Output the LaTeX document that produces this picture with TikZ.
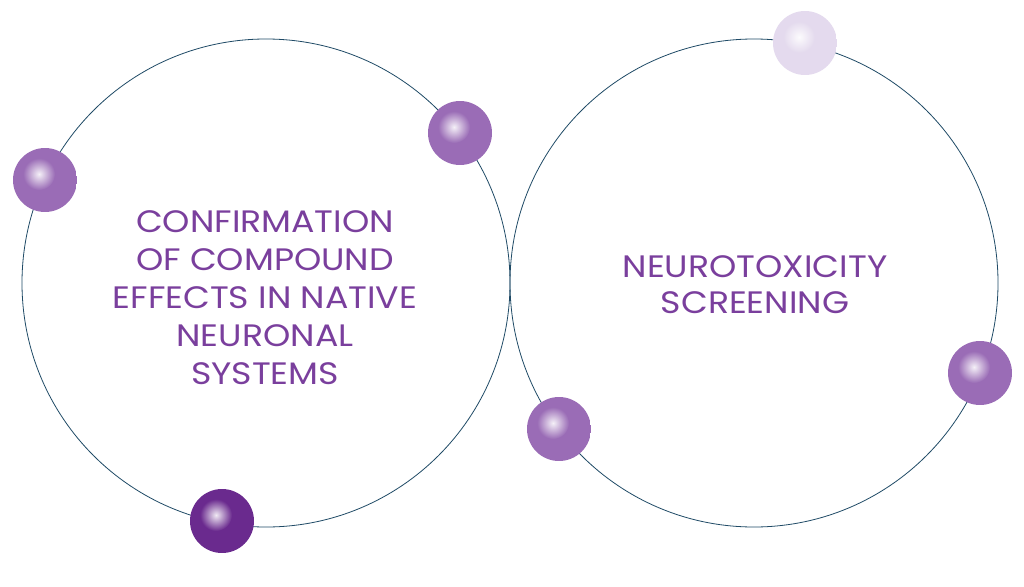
\documentclass[tikz,border=0pt]{standalone}
\usepackage{fontspec}
\setmainfont{Poppins}[FakeStretch=1.12]
\definecolor{txt}{HTML}{7A3F9D}
\definecolor{ringc}{HTML}{1F4A66}
\definecolor{ballm}{HTML}{9A6CB6}
\definecolor{balld}{HTML}{6A2A8E}
\definecolor{ballp}{HTML}{E4DAEE}
\begin{document}
\begin{tikzpicture}[x=1pt,y=-1pt,
  ring/.style={draw=ringc,line width=0.8pt},
  sphere/.style={circle,minimum size=64pt,inner sep=0pt},
  lbl/.style={text=txt,font=\fontsize{31}{38}\selectfont,align=center}]
\useasboundingbox (0,0) rectangle (1024,586);
\fill[white] (0,0) rectangle (1024,586);
\draw[ring] (266,283) circle (244);
\draw[ring] (754,283) circle (244);
\tikzset{shade ball/.style={path picture={
  \fill[#1] (path picture bounding box.south west) rectangle (path picture bounding box.north east);
  \shade[inner color=white,outer color=#1,opacity=0.9] ([xshift=-6pt,yshift=6pt]path picture bounding box.center) circle (16pt);
}}}
\node[sphere,shade ball=ballm] (b1) at (45,180) {};
\node[sphere,shade ball=ballm] (b2) at (460,133) {};
\node[sphere,shade ball=balld] (b3) at (222,521) {};
\node[sphere,shade ball=ballp] (b4) at (805,43) {};
\node[sphere,shade ball=ballm] (b5) at (980,373) {};
\node[sphere,shade ball=ballm] (b6) at (559,429) {};
\node[lbl] (t1) at (265,298) {CONFIRMATION\\OF COMPOUND\\EFFECTS IN NATIVE\\NEURONAL\\SYSTEMS};
\node[lbl,font=\fontsize{31}{36}\selectfont] (t2) at (755,285) {NEUROTOXICITY\\SCREENING};
\end{tikzpicture}
\end{document}
